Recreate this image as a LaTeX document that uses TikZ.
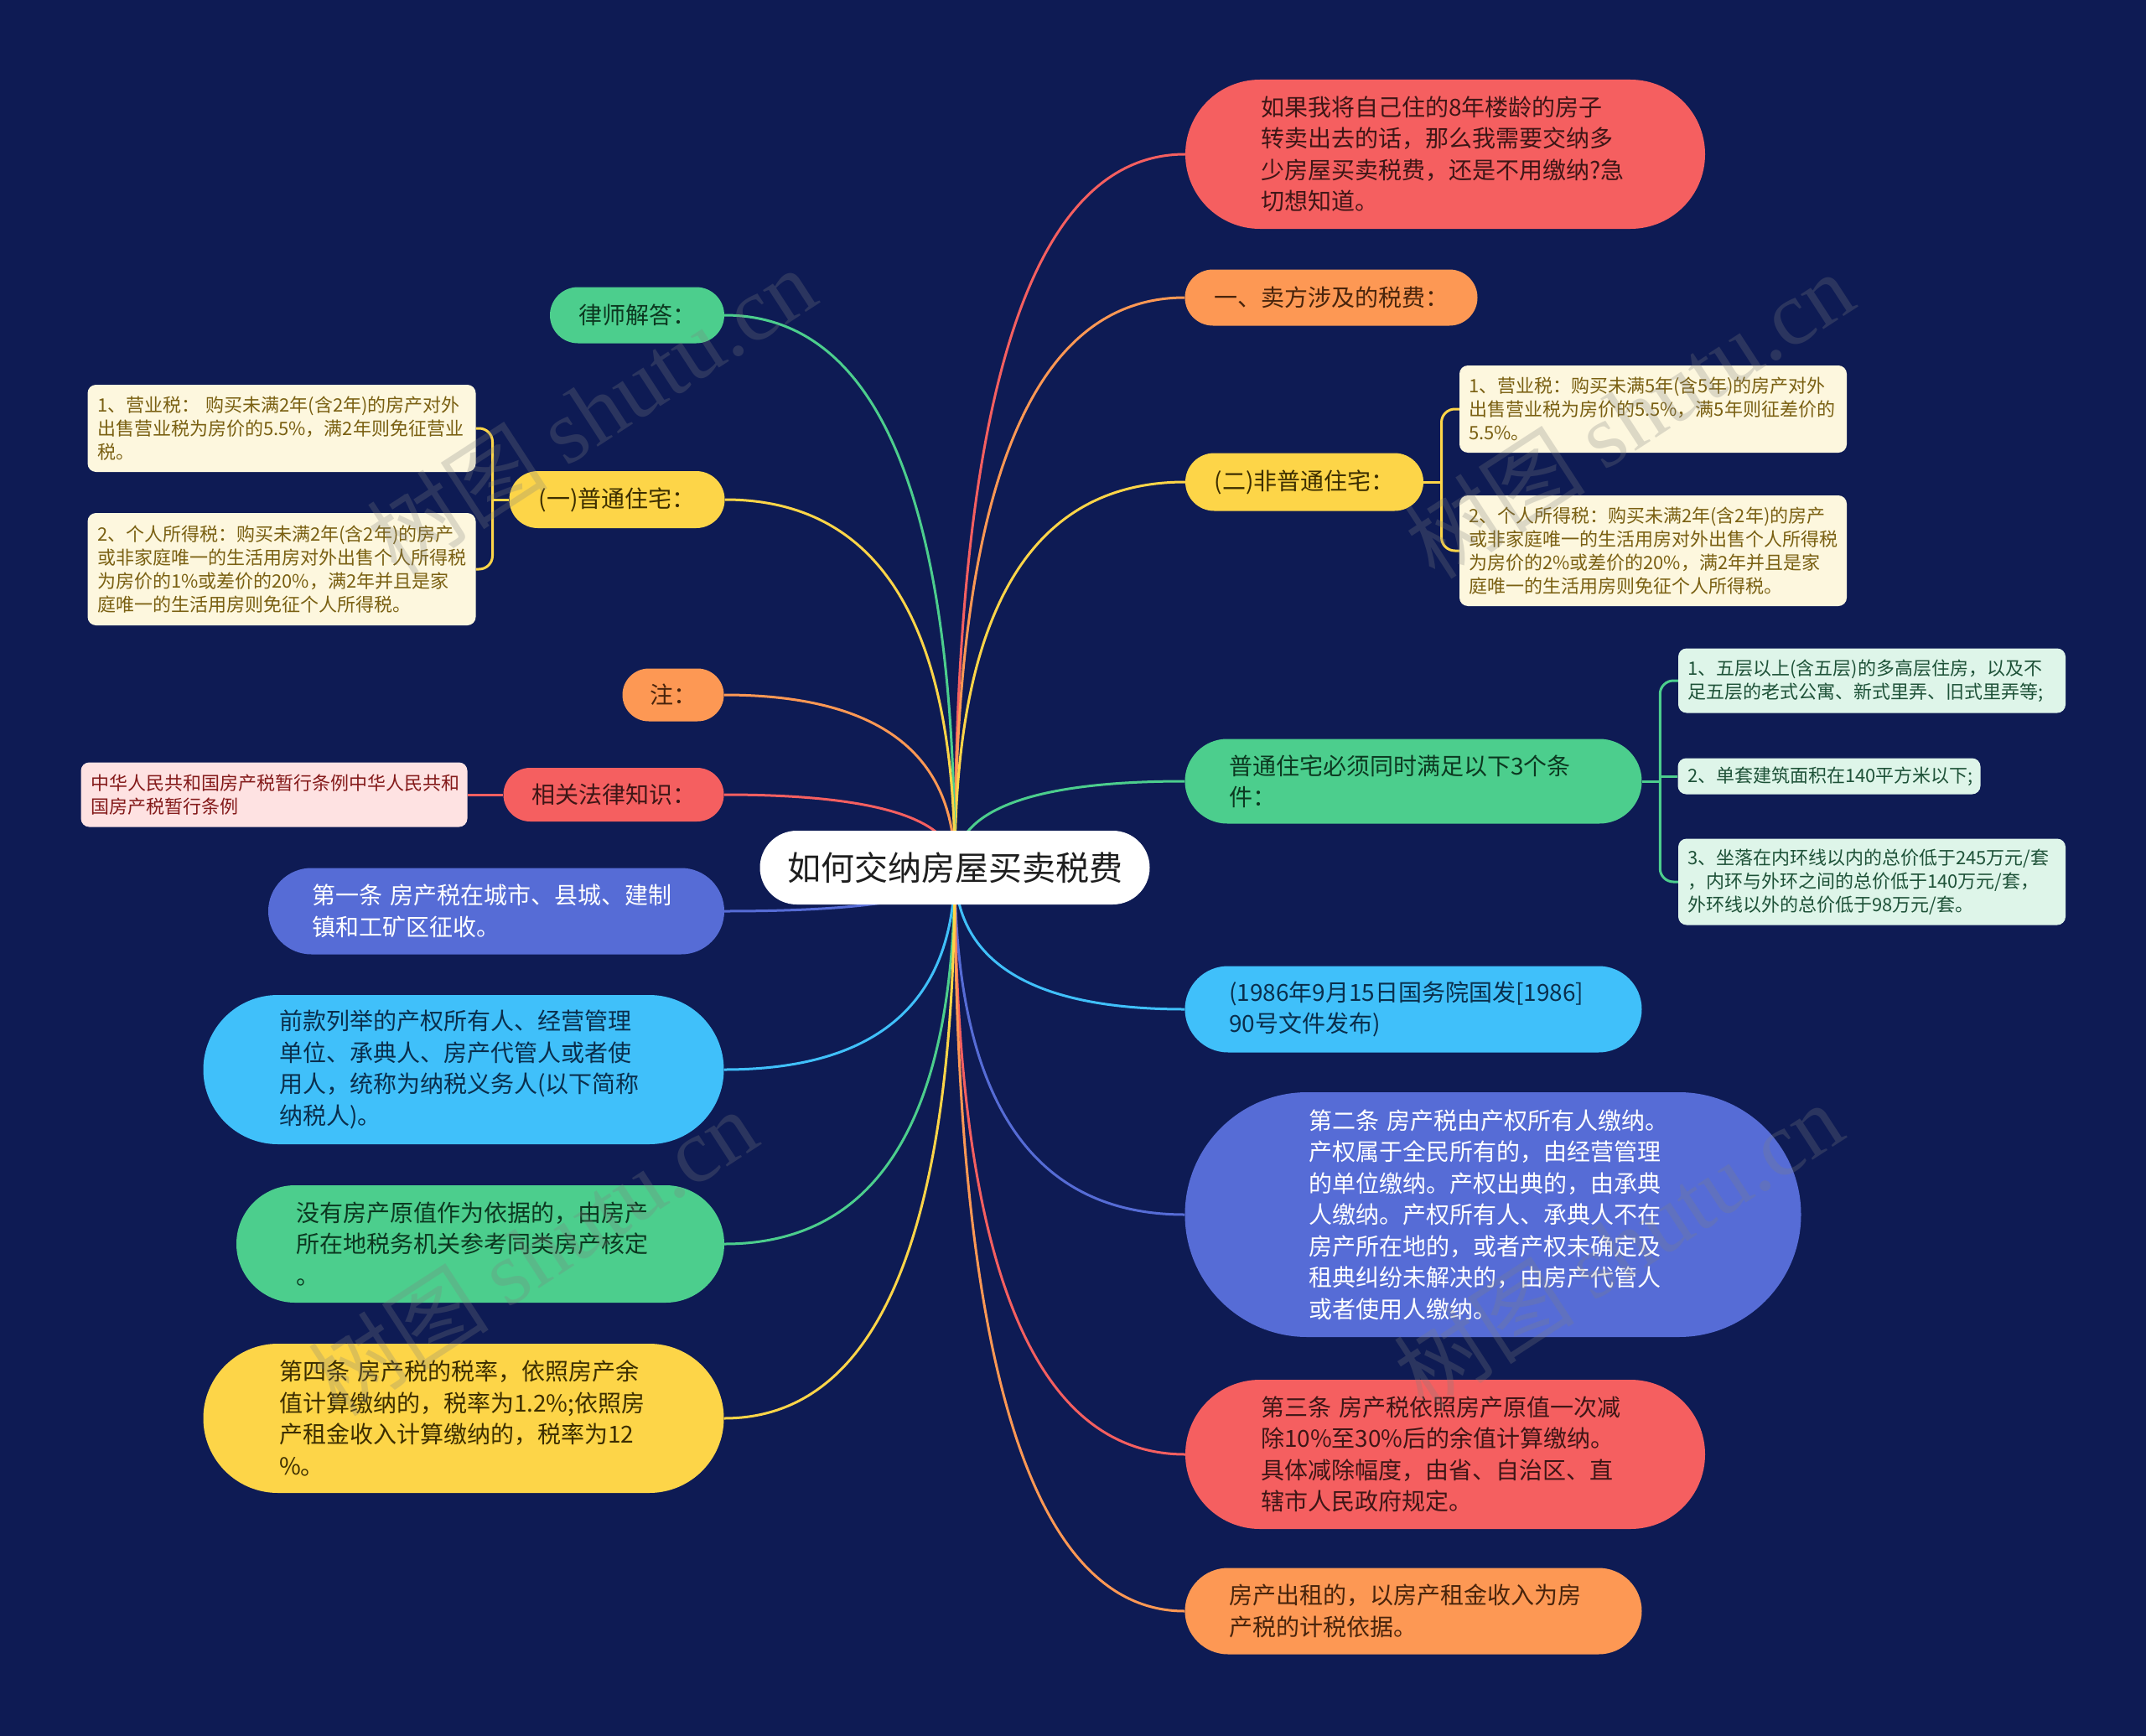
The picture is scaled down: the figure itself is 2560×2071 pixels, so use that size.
\documentclass[tikz,border=0pt]{standalone}
\usepackage{fontspec}
\setmainfont{Noto Sans CJK SC}
\newfontfamily\wmfont{Liberation Serif}
\usetikzlibrary{calc}
\definecolor{bg}{RGB}{14,27,84}
\definecolor{troot}{RGB}{30,30,30}
\definecolor{cred}{RGB}{245,95,96}
\definecolor{corange}{RGB}{253,152,84}
\definecolor{cyellow}{RGB}{253,213,72}
\definecolor{cgreen}{RGB}{76,206,141}
\definecolor{cblue}{RGB}{64,192,250}
\definecolor{cindigo}{RGB}{86,108,214}
\definecolor{tred}{RGB}{62,22,22}
\definecolor{torange}{RGB}{72,36,12}
\definecolor{tyellow}{RGB}{60,46,0}
\definecolor{tgreen}{RGB}{12,56,32}
\definecolor{tblue}{RGB}{10,46,76}
\definecolor{lyellow}{RGB}{253,247,222}
\definecolor{tlyellow}{RGB}{122,96,18}
\definecolor{lmint}{RGB}{222,245,233}
\definecolor{tlmint}{RGB}{30,82,56}
\definecolor{lpink}{RGB}{254,226,226}
\definecolor{tlpink}{RGB}{132,26,26}
\definecolor{wmgray}{RGB}{128,128,128}
\newcommand\fmain{\fontsize{28}{37.5}\selectfont}
\newcommand\fsub{\fontsize{22}{28}\selectfont}
\newcommand\froot{\fontsize{40}{48}\selectfont}
\pgfdeclarelayer{bgl}
\pgfdeclarelayer{back}
\pgfsetlayers{bgl,back,main}
\tikzset{
  box/.style={rectangle, inner sep=0pt, align=left},
  ctr/.style={align=center},
  nred/.style={fill=cred, text=tred, font=\fmain},
  norange/.style={fill=corange, text=torange, font=\fmain},
  nyellow/.style={fill=cyellow, text=tyellow, font=\fmain},
  ngreen/.style={fill=cgreen, text=tgreen, font=\fmain},
  nblue/.style={fill=cblue, text=tblue, font=\fmain},
  nindigo/.style={fill=cindigo, text=white, font=\fmain},
  sub/.style={rounded corners=10pt, font=\fsub},
  subyellow/.style={sub, fill=lyellow, text=tlyellow},
  submint/.style={sub, fill=lmint, text=tlmint},
  subpink/.style={sub, fill=lpink, text=tlpink},
  link/.style={line width=3pt},
  wm/.style={text=wmgray, text opacity=0.26, rotate=33, font=\fontsize{108}{108}\selectfont}
}
% name, x, y, w, h, text width, style, text
\newcommand\pillnode[8]{\node[box, minimum width=#4, minimum height=#5, text width=#6, rounded corners=#5/2, #7] (#1) at (#2,#3) {#8};}
\newcommand\subnode[8]{\node[box, minimum width=#4, minimum height=#5, text width=#6, #7] (#1) at (#2,#3) {#8};}
\newcommand\rlink[2]{\draw[link,#1] (root.center) .. controls ($(root.center)!0.667!(root.center |- #2.west)$) and ($(#2.west)!0.667!(root.center |- #2.west)$) .. (#2.west);}
\newcommand\llink[2]{\draw[link,#1] (root.center) .. controls ($(root.center)!0.667!(root.center |- #2.east)$) and ($(#2.east)!0.667!(root.center |- #2.east)$) .. (#2.east);}
\begin{document}
\begin{tikzpicture}[x=1pt,y=-1pt]
\begin{pgfonlayer}{bgl}
\fill[bg] (0,0) rectangle (2560,2071);
\end{pgfonlayer}
\useasboundingbox (0,0) rectangle (2560,2071);

% root
\node[box, ctr, fill=white, text=troot, font=\froot, minimum width=465, minimum height=88, rounded corners=44] (root) at (1139,1035) {如何交纳房屋买卖税费};

% right side
\pillnode{R1}{1724}{184}{620}{178}{440}{nred}{如果我将自己住的8年楼龄的房子\\转卖出去的话，那么我需要交纳多\\少房屋买卖税费，还是不用缴纳?急\\切想知道。}
\pillnode{R2}{1588}{355}{349}{67}{300}{norange,ctr}{一、卖方涉及的税费：}
\pillnode{R3}{1556}{575}{284}{69}{250}{nyellow,ctr}{(二)非普通住宅：}
\subnode{R3a}{1972}{488}{462}{104}{440}{subyellow}{1、营业税：购买未满5年(含5年)的房产对外\\出售营业税为房价的5.5\%，满5年则征差价的\\5.5\%。}
\subnode{R3b}{1972}{657}{462}{132}{440}{subyellow}{2、个人所得税：购买未满2年(含2年)的房产\\或非家庭唯一的生活用房对外出售个人所得税\\为房价的2\%或差价的20\%，满2年并且是家\\庭唯一的生活用房则免征个人所得税。}
\pillnode{R4}{1686}{932}{545}{101}{440}{ngreen}{普通住宅必须同时满足以下3个条\\件：}
\subnode{R4a}{2233}{812}{462}{77}{440}{submint}{1、五层以上(含五层)的多高层住房，以及不\\足五层的老式公寓、新式里弄、旧式里弄等;}
\subnode{R4b}{2182}{926}{361}{43}{338}{submint}{2、单套建筑面积在140平方米以下;}
\subnode{R4c}{2233}{1052}{462}{103}{440}{submint}{3、坐落在内环线以内的总价低于245万元/套\\，内环与外环之间的总价低于140万元/套，\\外环线以外的总价低于98万元/套。}
\pillnode{R5}{1686}{1204}{545}{103}{440}{nblue}{(1986年9月15日国务院国发[1986]\\90号文件发布)}
\pillnode{R6}{1781}{1449}{735}{292}{440}{nindigo}{第二条~房产税由产权所有人缴纳。\\产权属于全民所有的，由经营管理\\的单位缴纳。产权出典的，由承典\\人缴纳。产权所有人、承典人不在\\房产所在地的，或者产权未确定及\\租典纠纷未解决的，由房产代管人\\或者使用人缴纳。}
\pillnode{R7}{1724}{1735}{620}{178}{440}{nred}{第三条~房产税依照房产原值一次减\\除10\%至30\%后的余值计算缴纳。\\具体减除幅度，由省、自治区、直\\辖市人民政府规定。}
\pillnode{R8}{1686}{1922}{545}{103}{440}{norange}{房产出租的，以房产租金收入为房\\产税的计税依据。}

% left side
\pillnode{L1}{760}{376}{208}{67}{170}{ngreen,ctr}{律师解答：}
\pillnode{L2}{736}{596}{257}{68}{220}{nyellow,ctr}{(一)普通住宅：}
\subnode{L2a}{336}{511}{463}{104}{440}{subyellow}{1、营业税：~购买未满2年(含2年)的房产对外\\出售营业税为房价的5.5\%，满2年则免征营业\\税。}
\subnode{L2b}{336}{679}{463}{134}{440}{subyellow}{2、个人所得税：购买未满2年(含2年)的房产\\或非家庭唯一的生活用房对外出售个人所得税\\为房价的1\%或差价的20\%，满2年并且是家\\庭唯一的生活用房则免征个人所得税。}
\pillnode{L3}{803}{829}{121}{63}{90}{norange,ctr}{注：}
\pillnode{L4}{732}{948}{263}{64}{230}{nred,ctr}{相关法律知识：}
\subnode{L4a}{327}{948}{461}{77}{438}{subpink}{中华人民共和国房产税暂行条例中华人民共和\\国房产税暂行条例}
\pillnode{L5}{592}{1087}{544}{103}{440}{nindigo}{第一条~房产税在城市、县城、建制\\镇和工矿区征收。}
\pillnode{L6}{553}{1276}{621}{178}{440}{nblue}{前款列举的产权所有人、经营管理\\单位、承典人、房产代管人或者使\\用人，统称为纳税义务人(以下简称\\纳税人)。}
\pillnode{L7}{573}{1484}{582}{140}{440}{ngreen}{没有房产原值作为依据的，由房产\\所在地税务机关参考同类房产核定\\。}
\pillnode{L8}{553}{1692}{621}{178}{440}{nyellow}{第四条~房产税的税率，依照房产余\\值计算缴纳的，税率为1.2\%;依照房\\产租金收入计算缴纳的，税率为12\\\%。}

% connectors
\begin{pgfonlayer}{back}
\rlink{cred}{R1}
\rlink{corange}{R2}
\rlink{cyellow}{R3}
\rlink{cgreen}{R4}
\rlink{cblue}{R5}
\rlink{cindigo}{R6}
\rlink{cred}{R7}
\rlink{corange}{R8}
\llink{cgreen}{L1}
\llink{cyellow}{L2}
\llink{corange}{L3}
\llink{cred}{L4}
\llink{cindigo}{L5}
\llink{cblue}{L6}
\llink{cgreen}{L7}
\llink{cyellow}{L8}
% brackets
\coordinate (b3) at ($(R3.east)!0.5!(R3a.west |- R3.east)$);
\draw[link,cyellow] (R3.east) -- (b3);
\draw[link,cyellow,rounded corners=16pt] (R3a.west) -| (b3) |- (R3b.west);
\coordinate (b4) at ($(R4.east)!0.5!(R4a.west |- R4.east)$);
\draw[link,cgreen] (R4.east) -- (b4);
\draw[link,cgreen,rounded corners=16pt] (R4a.west) -| (b4) |- (R4c.west);
\draw[link,cgreen] (b4 |- R4b.west) -- (R4b.west);
\coordinate (b2) at ($(L2.west)!0.5!(L2a.east |- L2.west)$);
\draw[link,cyellow] (L2.west) -- (b2);
\draw[link,cyellow,rounded corners=16pt] (L2a.east) -| (b2) |- (L2b.east);
\draw[link,cred] (L4.west) -- (L4a.east);
\end{pgfonlayer}

% watermarks
\node[wm] (w1) at (705,490) {树图 {\wmfont shutu.cn}};
\node[wm] (w2) at (1943,495) {树图 {\wmfont shutu.cn}};
\node[wm] (w3) at (635,1494) {树图 {\wmfont shutu.cn}};
\node[wm] (w4) at (1930,1486) {树图 {\wmfont shutu.cn}};
\end{tikzpicture}
\end{document}
